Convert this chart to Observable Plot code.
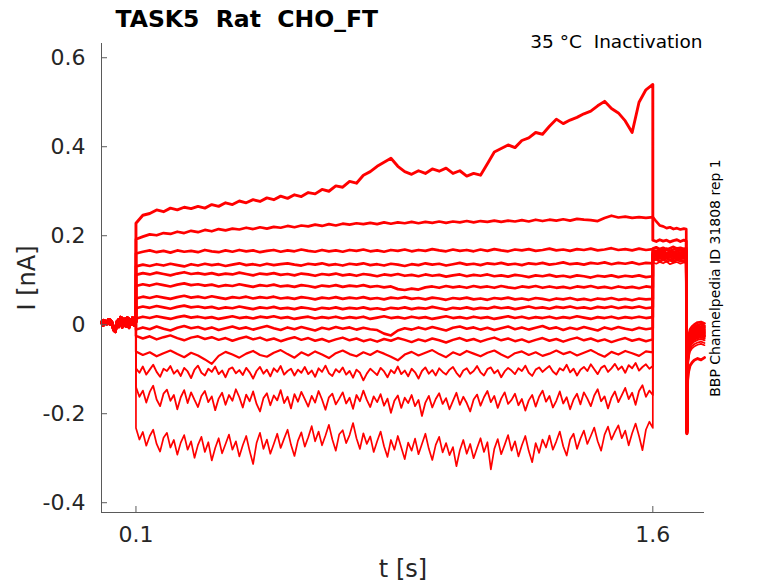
<!DOCTYPE html>
<html><head><meta charset="utf-8">
<script src="https://cdn.jsdelivr.net/npm/d3@7"></script>
<script src="https://cdn.jsdelivr.net/npm/@observablehq/plot@0.6"></script>
<style>body{margin:0;background:#fff}</style>
</head><body><div id="chart"></div>
<script>
// ---- axis ticks / labels ----
const xTicks = [0.1, 1.6];
const yTicks = [-0.4, -0.2, 0, 0.2, 0.4, 0.6];
const titleText = "TASK5  Rat  CHO_FT";
const subText = "35 °C  Inactivation";
const sideText = "BBP Channelpedia ID 31808 rep 1";

// ---- sample times [s] ----
const tP = [0,0.005,0.01,0.015,0.02,0.025,0.03,0.035,0.04,0.045,0.05,0.055,0.06,0.065,0.07,0.075,0.08,0.085,0.09,0.095,0.1];
const tA = [0.1,0.12,0.14,0.16,0.18,0.2,0.22,0.24,0.26,0.28,
0.3,0.32,0.34,0.36,0.38,0.4,0.42,0.44,0.46,0.48,
0.5,0.52,0.54,0.56,0.58,0.6,0.62,0.64,0.66,0.68,
0.7,0.72,0.74,0.76,0.78,0.8,0.82,0.84,0.86,0.88,
0.9,0.92,0.94,0.96,0.98,1,1.02,1.04,1.06,1.08,
1.1,1.12,1.14,1.16,1.18,1.2,1.22,1.24,1.26,1.28,
1.3,1.32,1.34,1.36,1.38,1.4,1.42,1.44,1.46,1.48,
1.5,1.52,1.54,1.56,1.58,1.6];
const tB = [0.1,0.11,0.12,0.13,0.14,0.15,0.16,0.17,0.18,0.19,
0.2,0.21,0.22,0.23,0.24,0.25,0.26,0.27,0.28,0.29,
0.3,0.31,0.32,0.33,0.34,0.35,0.36,0.37,0.38,0.39,
0.4,0.41,0.42,0.43,0.44,0.45,0.46,0.47,0.48,0.49,
0.5,0.51,0.52,0.53,0.54,0.55,0.56,0.57,0.58,0.59,
0.6,0.61,0.62,0.63,0.64,0.65,0.66,0.67,0.68,0.69,
0.7,0.71,0.72,0.73,0.74,0.75,0.76,0.77,0.78,0.79,
0.8,0.81,0.82,0.83,0.84,0.85,0.86,0.87,0.88,0.89,
0.9,0.91,0.92,0.93,0.94,0.95,0.96,0.97,0.98,0.99,
1,1.01,1.02,1.03,1.04,1.05,1.06,1.07,1.08,1.09,
1.1,1.11,1.12,1.13,1.14,1.15,1.16,1.17,1.18,1.19,
1.2,1.21,1.22,1.23,1.24,1.25,1.26,1.27,1.28,1.29,
1.3,1.31,1.32,1.33,1.34,1.35,1.36,1.37,1.38,1.39,
1.4,1.41,1.42,1.43,1.44,1.45,1.46,1.47,1.48,1.49,
1.5,1.51,1.52,1.53,1.54,1.55,1.56,1.57,1.58,1.59,
1.6];
const tC = [1.6,1.61,1.62,1.63,1.64,1.65,1.66,1.67,1.68,1.69,1.697,1.699,1.701,1.704,1.708,1.714,1.72,1.73,1.74,1.75];

// ---- holding (pre-step) current [nA] ----
const preA = [0.006,0.010,0.002,0.008,0.004,0.011,0.003,-0.012,-0.016,0.001,0.012,0.004,0.015,0.002,0.014,-0.004,0.013,0.003,0.016,-0.002,0.008];
const preB = [0.004,-0.002,0.009,0.001,0.012,0.000,0.007,-0.006,-0.010,0.008,-0.005,0.017,-0.006,0.010,-0.003,0.016,-0.007,0.012,0.000,0.014,0.005];

// ---- step currents [nA], traces 1 (top) .. 15 (bottom) ----
const step1 = [0.228,0.246,0.250,0.258,0.254,0.262,0.258,0.264,0.261,0.266,
0.262,0.270,0.266,0.274,0.270,0.278,0.274,0.281,0.277,0.285,
0.281,0.289,0.284,0.292,0.288,0.297,0.294,0.304,0.300,0.312,
0.309,0.322,0.318,0.336,0.344,0.356,0.365,0.374,0.356,0.344,
0.338,0.346,0.340,0.350,0.345,0.352,0.340,0.346,0.334,0.340,
0.336,0.362,0.388,0.396,0.404,0.398,0.414,0.420,0.432,0.428,
0.446,0.462,0.452,0.460,0.466,0.474,0.480,0.492,0.502,0.486,
0.476,0.458,0.432,0.500,0.528,0.540];
const step2 = [0.192,0.198,0.203,0.201,0.206,0.204,0.209,0.206,0.211,0.208,
0.213,0.210,0.215,0.212,0.216,0.214,0.218,0.215,0.219,0.216,
0.220,0.218,0.222,0.219,0.223,0.221,0.225,0.222,0.226,0.223,
0.227,0.225,0.228,0.226,0.229,0.226,0.230,0.227,0.230,0.228,
0.231,0.228,0.231,0.229,0.232,0.229,0.232,0.230,0.233,0.230,
0.233,0.231,0.234,0.231,0.234,0.232,0.235,0.232,0.236,0.233,
0.236,0.234,0.237,0.234,0.238,0.236,0.235,0.233,0.240,0.245,
0.241,0.243,0.240,0.242,0.240,0.242];
const step3 = [0.160,0.164,0.167,0.163,0.166,0.162,0.167,0.164,0.166,0.163,
0.168,0.165,0.163,0.167,0.164,0.168,0.165,0.167,0.163,0.166,
0.168,0.164,0.167,0.165,0.169,0.166,0.164,0.168,0.165,0.167,
0.164,0.168,0.166,0.169,0.165,0.167,0.164,0.168,0.166,0.169,
0.165,0.168,0.166,0.170,0.167,0.165,0.169,0.166,0.168,0.165,
0.169,0.166,0.170,0.167,0.165,0.169,0.167,0.170,0.166,0.168,
0.171,0.167,0.169,0.166,0.170,0.168,0.171,0.167,0.169,0.172,
0.168,0.170,0.167,0.171,0.168,0.170];
const step4 = [0.131,0.135,0.132,0.136,0.133,0.137,0.134,0.131,0.136,0.133,
0.137,0.134,0.136,0.132,0.135,0.138,0.134,0.136,0.133,0.137,
0.134,0.136,0.138,0.135,0.133,0.137,0.135,0.138,0.134,0.136,
0.133,0.137,0.135,0.138,0.134,0.136,0.133,0.137,0.135,0.132,
0.136,0.134,0.138,0.135,0.137,0.133,0.136,0.139,0.135,0.137,
0.134,0.138,0.136,0.139,0.135,0.137,0.134,0.138,0.136,0.139,
0.135,0.137,0.140,0.136,0.138,0.135,0.139,0.137,0.140,0.136,
0.139,0.137,0.140,0.136,0.139,0.138];
const step5 = [0.112,0.116,0.113,0.117,0.114,0.111,0.115,0.118,0.114,0.116,
0.113,0.116,0.112,0.115,0.113,0.117,0.114,0.111,0.115,0.113,
0.116,0.112,0.114,0.111,0.115,0.113,0.110,0.114,0.112,0.115,
0.111,0.113,0.110,0.114,0.112,0.109,0.113,0.111,0.114,0.110,
0.112,0.109,0.113,0.110,0.112,0.108,0.111,0.113,0.109,0.112,
0.110,0.113,0.109,0.111,0.108,0.112,0.110,0.107,0.111,0.109,
0.112,0.108,0.110,0.107,0.111,0.109,0.106,0.110,0.108,0.111,
0.107,0.110,0.108,0.111,0.107,0.109];
const step6 = [0.087,0.091,0.088,0.092,0.089,0.086,0.090,0.093,0.089,0.091,
0.088,0.090,0.086,0.089,0.087,0.091,0.088,0.085,0.089,0.087,
0.090,0.086,0.088,0.085,0.089,0.087,0.084,0.088,0.086,0.089,
0.085,0.088,0.086,0.089,0.085,0.087,0.084,0.086,0.080,0.078,
0.081,0.079,0.084,0.086,0.083,0.087,0.084,0.086,0.083,0.087,
0.084,0.086,0.083,0.087,0.084,0.082,0.086,0.084,0.087,0.083,
0.086,0.083,0.085,0.082,0.086,0.084,0.087,0.083,0.085,0.082,
0.086,0.083,0.085,0.082,0.086,0.084];
const step7 = [0.059,0.063,0.060,0.064,0.061,0.058,0.062,0.065,0.061,0.063,
0.060,0.064,0.061,0.058,0.062,0.060,0.063,0.059,0.062,0.060,
0.063,0.059,0.061,0.058,0.062,0.060,0.057,0.061,0.059,0.062,
0.058,0.061,0.059,0.062,0.058,0.060,0.057,0.061,0.059,0.062,
0.058,0.060,0.057,0.061,0.059,0.056,0.060,0.058,0.061,0.057,
0.059,0.056,0.060,0.058,0.061,0.057,0.059,0.056,0.060,0.058,
0.055,0.059,0.057,0.060,0.056,0.058,0.055,0.059,0.057,0.060,
0.056,0.058,0.055,0.059,0.057,0.058];
const step8 = [0.037,0.041,0.038,0.042,0.039,0.036,0.040,0.043,0.039,0.041,
0.038,0.040,0.036,0.039,0.037,0.041,0.038,0.035,0.039,0.037,
0.040,0.036,0.038,0.035,0.039,0.037,0.034,0.038,0.036,0.039,
0.035,0.038,0.036,0.039,0.035,0.037,0.034,0.038,0.036,0.039,
0.035,0.038,0.036,0.040,0.037,0.034,0.038,0.036,0.039,0.035,
0.038,0.036,0.040,0.037,0.039,0.035,0.038,0.041,0.037,0.039,
0.036,0.040,0.038,0.041,0.037,0.039,0.036,0.040,0.038,0.041,
0.037,0.040,0.038,0.041,0.037,0.039];
const step9 = [0.014,0.018,0.015,0.019,0.016,0.013,0.017,0.020,0.016,0.018,
0.015,0.017,0.013,0.016,0.019,0.015,0.017,0.014,0.018,0.016,
0.019,0.015,0.017,0.013,0.016,0.018,0.014,0.017,0.015,0.018,
0.014,0.017,0.015,0.018,0.013,0.016,0.019,0.015,0.017,0.014,
0.018,0.015,0.017,0.013,0.016,0.019,0.015,0.017,0.014,0.018,
0.015,0.017,0.013,0.016,0.019,0.015,0.018,0.014,0.017,0.015,
0.018,0.014,0.017,0.015,0.019,0.016,0.013,0.017,0.015,0.018,
0.014,0.017,0.015,0.018,0.015,0.017];
const step10 = [-0.011,-0.006,-0.010,-0.004,-0.009,-0.013,-0.007,-0.003,-0.008,-0.005,
-0.010,-0.006,-0.012,-0.008,-0.004,-0.009,-0.006,-0.011,-0.007,-0.003,
-0.008,-0.012,-0.006,-0.010,-0.005,-0.009,-0.013,-0.007,-0.010,-0.005,
-0.009,-0.006,-0.011,-0.007,-0.010,-0.012,-0.020,-0.024,-0.013,-0.008,
-0.011,-0.006,-0.010,-0.005,-0.009,-0.013,-0.007,-0.004,-0.009,-0.006,
-0.011,-0.007,-0.012,-0.008,-0.004,-0.010,-0.006,-0.011,-0.007,-0.003,
-0.009,-0.006,-0.012,-0.007,-0.010,-0.005,-0.009,-0.013,-0.006,-0.010,
-0.005,-0.009,-0.012,-0.007,-0.010,-0.008];
const step11 = [-0.025,-0.031,-0.026,-0.033,-0.028,-0.024,-0.030,-0.035,-0.029,-0.026,
-0.032,-0.028,-0.034,-0.030,-0.036,-0.031,-0.027,-0.033,-0.029,-0.035,
-0.031,-0.037,-0.032,-0.028,-0.034,-0.030,-0.036,-0.032,-0.038,-0.033,
-0.029,-0.035,-0.031,-0.037,-0.033,-0.038,-0.032,-0.036,-0.030,-0.034,
-0.039,-0.033,-0.037,-0.031,-0.035,-0.040,-0.034,-0.030,-0.036,-0.032,
-0.038,-0.033,-0.029,-0.035,-0.031,-0.037,-0.033,-0.039,-0.034,-0.030,
-0.036,-0.032,-0.038,-0.033,-0.029,-0.035,-0.031,-0.037,-0.033,-0.039,
-0.034,-0.030,-0.036,-0.032,-0.037,-0.033];
const step12 = [-0.060,-0.068,-0.062,-0.071,-0.064,-0.058,-0.066,-0.073,-0.063,-0.069,
-0.078,-0.088,-0.070,-0.061,-0.067,-0.074,-0.065,-0.059,-0.068,-0.072,
-0.063,-0.057,-0.066,-0.074,-0.062,-0.069,-0.060,-0.067,-0.075,-0.064,
-0.058,-0.066,-0.071,-0.062,-0.068,-0.059,-0.065,-0.072,-0.080,-0.067,
-0.061,-0.069,-0.063,-0.057,-0.066,-0.073,-0.062,-0.068,-0.059,-0.065,
-0.071,-0.063,-0.058,-0.067,-0.074,-0.064,-0.060,-0.068,-0.062,-0.070,
-0.065,-0.058,-0.066,-0.061,-0.069,-0.063,-0.057,-0.065,-0.072,-0.061,
-0.067,-0.059,-0.064,-0.070,-0.060,-0.062];
const step13 = [-0.098,-0.108,-0.094,-0.112,-0.101,-0.090,-0.106,-0.117,-0.099,-0.104,
-0.093,-0.110,-0.102,-0.115,-0.097,-0.105,-0.120,-0.101,-0.092,-0.108,
-0.114,-0.099,-0.106,-0.094,-0.111,-0.103,-0.118,-0.100,-0.096,-0.109,
-0.102,-0.113,-0.097,-0.107,-0.121,-0.104,-0.095,-0.110,-0.101,-0.116,
-0.098,-0.106,-0.093,-0.112,-0.104,-0.099,-0.114,-0.101,-0.108,-0.095,
-0.111,-0.103,-0.117,-0.098,-0.106,-0.092,-0.109,-0.115,-0.100,-0.107,
-0.096,-0.112,-0.104,-0.119,-0.101,-0.108,-0.125,-0.110,-0.099,-0.106,
-0.113,-0.097,-0.105,-0.118,-0.102,-0.109,-0.094,-0.111,-0.103,-0.116,
-0.099,-0.107,-0.121,-0.104,-0.096,-0.110,-0.102,-0.114,-0.098,-0.106,
-0.112,-0.101,-0.095,-0.108,-0.117,-0.103,-0.098,-0.110,-0.104,-0.093,
-0.107,-0.114,-0.100,-0.096,-0.109,-0.102,-0.118,-0.105,-0.097,-0.103,
-0.111,-0.098,-0.104,-0.092,-0.108,-0.115,-0.101,-0.096,-0.106,-0.099,
-0.093,-0.105,-0.112,-0.098,-0.103,-0.090,-0.107,-0.099,-0.114,-0.101,
-0.095,-0.104,-0.089,-0.100,-0.111,-0.097,-0.092,-0.106,-0.098,-0.088,
-0.101,-0.094,-0.108,-0.091,-0.098,-0.086,-0.103,-0.095,-0.089,-0.099,
-0.093];
const step14 = [-0.140,-0.162,-0.148,-0.175,-0.151,-0.137,-0.168,-0.183,-0.155,-0.146,
-0.171,-0.158,-0.190,-0.163,-0.147,-0.176,-0.152,-0.169,-0.185,-0.160,
-0.149,-0.174,-0.161,-0.192,-0.166,-0.153,-0.180,-0.158,-0.171,-0.145,
-0.163,-0.186,-0.157,-0.172,-0.150,-0.178,-0.195,-0.165,-0.154,-0.181,
-0.159,-0.170,-0.147,-0.176,-0.162,-0.188,-0.156,-0.173,-0.151,-0.167,
-0.184,-0.160,-0.175,-0.149,-0.168,-0.191,-0.163,-0.155,-0.179,-0.166,
-0.152,-0.177,-0.164,-0.189,-0.158,-0.172,-0.148,-0.169,-0.185,-0.161,
-0.174,-0.156,-0.182,-0.166,-0.198,-0.171,-0.159,-0.187,-0.164,-0.176,
-0.158,-0.183,-0.169,-0.205,-0.175,-0.160,-0.186,-0.167,-0.154,-0.178,
-0.165,-0.190,-0.171,-0.153,-0.180,-0.162,-0.176,-0.195,-0.168,-0.157,
-0.182,-0.163,-0.149,-0.174,-0.160,-0.187,-0.166,-0.152,-0.178,-0.169,
-0.155,-0.181,-0.167,-0.193,-0.170,-0.158,-0.184,-0.162,-0.148,-0.173,
-0.160,-0.186,-0.171,-0.150,-0.177,-0.163,-0.190,-0.168,-0.155,-0.179,
-0.152,-0.166,-0.183,-0.159,-0.145,-0.172,-0.161,-0.188,-0.164,-0.150,
-0.174,-0.158,-0.142,-0.167,-0.153,-0.180,-0.149,-0.136,-0.162,-0.148,
-0.158];
const step15 = [-0.232,-0.258,-0.241,-0.272,-0.250,-0.236,-0.268,-0.285,-0.254,-0.243,
-0.276,-0.259,-0.292,-0.265,-0.248,-0.281,-0.262,-0.299,-0.270,-0.252,
-0.286,-0.264,-0.305,-0.277,-0.255,-0.289,-0.268,-0.247,-0.281,-0.262,
-0.296,-0.271,-0.250,-0.284,-0.313,-0.266,-0.243,-0.279,-0.258,-0.290,
-0.268,-0.245,-0.277,-0.256,-0.236,-0.270,-0.295,-0.261,-0.242,-0.274,
-0.253,-0.228,-0.262,-0.240,-0.271,-0.249,-0.225,-0.258,-0.283,-0.246,
-0.237,-0.266,-0.248,-0.221,-0.255,-0.279,-0.244,-0.268,-0.251,-0.286,
-0.262,-0.240,-0.273,-0.297,-0.259,-0.281,-0.250,-0.276,-0.302,-0.265,
-0.283,-0.256,-0.291,-0.268,-0.245,-0.279,-0.304,-0.270,-0.252,-0.287,
-0.266,-0.293,-0.275,-0.318,-0.282,-0.259,-0.290,-0.268,-0.300,-0.277,
-0.255,-0.286,-0.264,-0.325,-0.279,-0.257,-0.291,-0.270,-0.248,-0.283,
-0.262,-0.296,-0.271,-0.250,-0.284,-0.309,-0.266,-0.288,-0.258,-0.276,
-0.249,-0.281,-0.262,-0.240,-0.273,-0.294,-0.258,-0.245,-0.279,-0.256,
-0.238,-0.268,-0.250,-0.231,-0.262,-0.283,-0.247,-0.229,-0.258,-0.241,
-0.226,-0.255,-0.238,-0.271,-0.244,-0.222,-0.250,-0.282,-0.236,-0.218,
-0.232];

// ---- tail currents after the step [nA] ----
const tail1 = [0.190,0.187,0.191,0.188,0.190,0.186,0.189,0.191,0.187,0.190,0.188,-0.245,-0.125,-0.105,-0.092,-0.085,-0.080,-0.076,-0.079,-0.074];
const tail2 = [0.242,0.232,0.223,0.221,0.217,0.219,0.215,0.217,0.214,0.216,0.215,-0.240,-0.070,-0.045,-0.035,-0.028,-0.025,-0.027,-0.023,-0.025];
const tail3 = [0.171,0.174,0.170,0.173,0.169,0.172,0.175,0.171,0.173,0.170,0.172,-0.238,-0.056,-0.026,-0.011,-0.004,0.000,0.005,0.006,0.003];
const tail4 = [0.168,0.165,0.170,0.167,0.171,0.166,0.169,0.172,0.167,0.170,0.168,-0.242,-0.062,-0.032,-0.017,-0.010,-0.006,-0.001,0.001,-0.003];
const tail5 = [0.166,0.163,0.167,0.164,0.168,0.165,0.162,0.166,0.169,0.164,0.166,-0.240,-0.066,-0.036,-0.021,-0.013,-0.009,-0.005,-0.004,-0.007];
const tail6 = [0.163,0.166,0.161,0.164,0.160,0.165,0.162,0.166,0.161,0.164,0.163,-0.244,-0.070,-0.040,-0.025,-0.018,-0.014,-0.009,-0.008,-0.011];
const tail7 = [0.160,0.163,0.159,0.162,0.158,0.161,0.164,0.159,0.162,0.160,0.161,-0.239,-0.073,-0.043,-0.028,-0.021,-0.017,-0.013,-0.011,-0.014];
const tail8 = [0.158,0.161,0.156,0.160,0.157,0.159,0.155,0.160,0.158,0.156,0.159,-0.243,-0.076,-0.046,-0.031,-0.024,-0.020,-0.016,-0.014,-0.017];
const tail9 = [0.156,0.153,0.158,0.155,0.157,0.154,0.158,0.155,0.153,0.157,0.156,-0.241,-0.079,-0.049,-0.034,-0.027,-0.023,-0.019,-0.017,-0.020];
const tail10 = [0.154,0.157,0.152,0.155,0.151,0.156,0.153,0.150,0.155,0.152,0.154,-0.245,-0.082,-0.052,-0.037,-0.030,-0.026,-0.022,-0.020,-0.023];
const tail11 = [0.151,0.154,0.149,0.153,0.150,0.152,0.148,0.153,0.150,0.149,0.152,-0.240,-0.086,-0.056,-0.041,-0.034,-0.030,-0.026,-0.024,-0.027];
const tail12 = [0.150,0.147,0.151,0.148,0.152,0.146,0.149,0.151,0.147,0.150,0.149,-0.244,-0.090,-0.060,-0.045,-0.038,-0.034,-0.030,-0.028,-0.031];
const tail13 = [0.146,0.149,0.144,0.148,0.145,0.147,0.143,0.148,0.145,0.144,0.147,-0.242,-0.094,-0.064,-0.049,-0.042,-0.038,-0.034,-0.032,-0.035];
const tail14 = [0.143,0.146,0.141,0.145,0.142,0.144,0.140,0.145,0.142,0.141,0.144,-0.246,-0.100,-0.070,-0.055,-0.048,-0.044,-0.040,-0.038,-0.041];
const tail15 = [0.140,0.137,0.141,0.138,0.142,0.136,0.139,0.141,0.137,0.140,0.139,-0.243,-0.105,-0.075,-0.060,-0.053,-0.049,-0.045,-0.043,-0.046];

// ---- assemble traces ----
const traces = [
  {pre: preA, t: tA, v: step1,  tail: tail1},
  {pre: preB, t: tA, v: step2,  tail: tail2},
  {pre: preA, t: tA, v: step3,  tail: tail3},
  {pre: preB, t: tA, v: step4,  tail: tail4},
  {pre: preA, t: tA, v: step5,  tail: tail5},
  {pre: preB, t: tA, v: step6,  tail: tail6},
  {pre: preA, t: tA, v: step7,  tail: tail7},
  {pre: preB, t: tA, v: step8,  tail: tail8},
  {pre: preA, t: tA, v: step9,  tail: tail9},
  {pre: preB, t: tA, v: step10, tail: tail10},
  {pre: preA, t: tA, v: step11, tail: tail11},
  {pre: preB, t: tA, v: step12, tail: tail12},
  {pre: preA, t: tB, v: step13, tail: tail13},
  {pre: preB, t: tB, v: step14, tail: tail14},
  {pre: preA, t: tB, v: step15, tail: tail15}
];
const widths = [2.9,2.7,2.7,2.7,2.7,2.7,2.7,2.7,2.7,2.6,2.5,2.2,1.9,1.8,1.7];

traces.forEach((tr, i) => {
  if (tr.t.length !== tr.v.length) throw new Error("step length mismatch trace " + (i+1) + ": " + tr.v.length + " vs " + tr.t.length);
  if (tr.tail.length !== tC.length) throw new Error("tail length mismatch trace " + (i+1));
  if (tr.pre.length !== tP.length) throw new Error("pre length mismatch trace " + (i+1));
});

const rows = traces.map((tr, i) => [
  ...tP.map((t, j) => ({t, I: tr.pre[j]})),
  ...tr.t.map((t, j) => ({t, I: tr.v[j]})),
  ...tC.map((t, j) => ({t, I: tr.tail[j]}))
]);

const W = 778, H = 583, mL = 101, mR = 74, mT = 43, mB = 71;
const innerW = W - mL - mR, innerH = H - mT - mB;
const xDom = [0, 1.75], yDom = [-0.422, 0.632];
const axisCol = "#5a5a5a", textCol = "#262626";

const marks = [
  ...rows.map((r, i) => Plot.line(r, {x: "t", y: "I", stroke: "#ff0000", strokeWidth: widths[i], strokeLinejoin: "round"})),
  Plot.ruleX([xDom[0]], {stroke: axisCol, strokeWidth: 1}),
  Plot.ruleY([yDom[0]], {stroke: axisCol, strokeWidth: 1}),
  Plot.ruleX(xTicks, {stroke: axisCol, insetTop: innerH - 6}),
  Plot.ruleY(yTicks, {stroke: axisCol, insetRight: innerW - 6}),
  Plot.axisX({ticks: xTicks, tickSize: 0, tickPadding: 14, tickFormat: d => String(d), fontSize: 22, fill: textCol, label: null}),
  Plot.axisY({ticks: yTicks, tickSize: 0, tickPadding: 16, tickFormat: d => String(d), fontSize: 22, fill: textCol, label: null}),
  Plot.text(["t [s]"], {text: d => d, frameAnchor: "bottom", dy: 64, textAnchor: "middle", lineAnchor: "bottom", fontSize: 24, fill: textCol}),
  Plot.text(["I [nA]"], {text: d => d, frameAnchor: "left", dx: -74, rotate: -90, textAnchor: "middle", lineAnchor: "middle", fontSize: 24, fill: textCol}),
  Plot.text([titleText], {text: d => d, frameAnchor: "top-left", dx: 14, dy: -16.3, textAnchor: "start", lineAnchor: "bottom", fontSize: 23.5, fontWeight: "bold", fill: "#000"}),
  Plot.text([subText], {text: d => d, frameAnchor: "top-right", dx: -2, dy: 4.3, textAnchor: "end", lineAnchor: "bottom", fontSize: 18.5, fill: "#000"}),
  Plot.text([sideText], {text: d => d, frameAnchor: "right", dx: 11.5, rotate: -90, textAnchor: "middle", lineAnchor: "middle", fontSize: 14, fill: "#000"})
];

const chart = Plot.plot({
  width: W, height: H,
  marginLeft: mL, marginRight: mR, marginTop: mT, marginBottom: mB,
  x: {domain: xDom, axis: null},
  y: {domain: yDom, axis: null},
  style: {fontFamily: "DejaVu Sans", background: "#fff", overflow: "visible"},
  marks
});
document.getElementById("chart").append(chart);
</script>
</body></html>
